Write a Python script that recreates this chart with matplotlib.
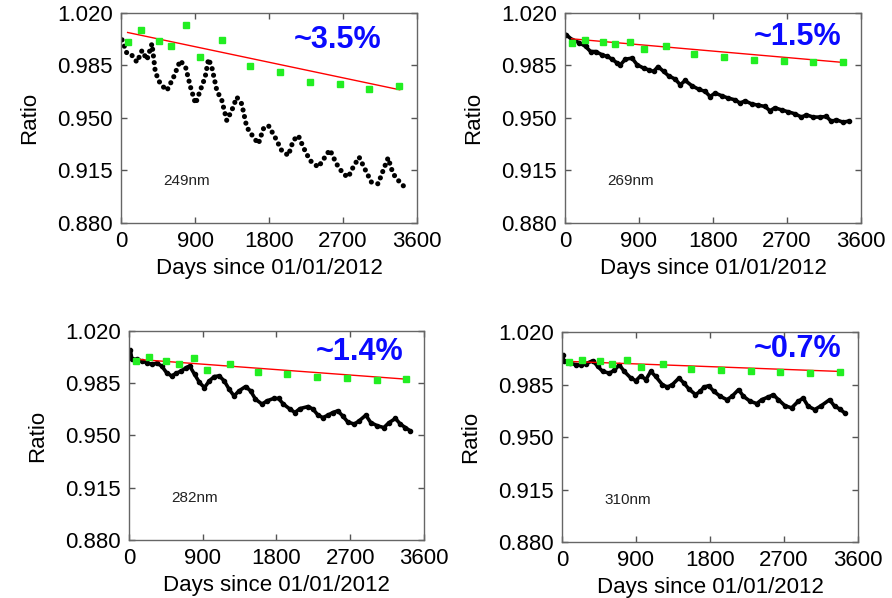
import matplotlib
matplotlib.use("Agg")
import matplotlib.pyplot as plt

plt.rcParams["font.family"] = ["Liberation Sans", "DejaVu Sans"]

wavelengths = ["249nm", "269nm", "282nm", "310nm"]
percent_labels = ["~3.5%", "~1.5%", "~1.4%", "~0.7%"]

# green reference points (same days in every panel)
ref_days = [80, 243, 457, 605, 790, 956, 1227, 1570, 1930, 2295, 2658, 3022, 3386]
ref_249 = [1.0006, 1.0088, 1.0012, 0.9977, 1.0119, 0.9906, 1.0023, 0.9846, 0.9806, 0.9743, 0.9728, 0.9692, 0.9712]
ref_269 = [1.0003, 1.0021, 1.0006, 0.9992, 1.0006, 0.9959, 0.9983, 0.9928, 0.9906, 0.9886, 0.9879, 0.9870, 0.9870]
ref_282 = [1.0002, 1.0026, 0.9999, 0.9977, 1.0017, 0.9941, 0.9982, 0.9926, 0.9912, 0.9892, 0.9883, 0.9872, 0.9881]
ref_310 = [1.0000, 1.0011, 1.0004, 0.9989, 1.0013, 0.9964, 0.9984, 0.9955, 0.9948, 0.9940, 0.9935, 0.9926, 0.9933]

# red linear fit
fit_days = [80, 3390]
fit_249 = [1.0070, 0.9688]
fit_269 = [1.0028, 0.9870]
fit_282 = [1.0011, 0.9877]
fit_310 = [1.0004, 0.9937]

# black time series
days_249 = [12, 73, 133, 194, 255, 315, 376, 417, 477, 558, 639, 720, 785, 845, 906, 963,
            1023, 1064, 1104, 1165, 1226, 1286, 1347, 1408, 1468, 1529, 1610, 1671, 1731,
            1792, 1873, 1954, 2035, 2095, 2156, 2217, 2298, 2399, 2480, 2540, 2621, 2702,
            2763, 2823, 2896, 2965, 3046, 3127, 3188, 3248, 3309, 3390, 3450]
ratio_249 = [1.0021, 0.9928, 0.9917, 0.9872, 0.9950, 0.9888, 0.9995, 0.9806, 0.9728, 0.9683,
             0.9772, 0.9883, 0.9839, 0.9706, 0.9595, 0.9683, 0.9772, 0.9894, 0.9839, 0.9683,
             0.9617, 0.9483, 0.9550, 0.9639, 0.9594, 0.9439, 0.9372, 0.9328, 0.9428, 0.9450,
             0.9372, 0.9283, 0.9250, 0.9350, 0.9383, 0.9305, 0.9217, 0.9172, 0.9239, 0.9288,
             0.9194, 0.9128, 0.9105, 0.9172, 0.9239, 0.9161, 0.9072, 0.9061, 0.9150, 0.9234,
             0.9128, 0.9072, 0.9039]

days_269 = [16, 89, 170, 250, 311, 372, 452, 513, 574, 634, 675, 735, 816, 877, 957, 1018,
            1079, 1131, 1200, 1260, 1341, 1402, 1462, 1543, 1624, 1705, 1765, 1826, 1907,
            1988, 2068, 2129, 2190, 2270, 2351, 2432, 2493, 2553, 2634, 2715, 2796, 2876,
            2937, 3018, 3099, 3179, 3240, 3301, 3381, 3450]
ratio_269 = [1.0054, 1.0021, 1.0003, 0.9977, 0.9943, 0.9943, 0.9921, 0.9910, 0.9892, 0.9866,
             0.9855, 0.9892, 0.9899, 0.9855, 0.9832, 0.9821, 0.9810, 0.9843, 0.9810, 0.9781,
             0.9759, 0.9721, 0.9750, 0.9715, 0.9692, 0.9677, 0.9643, 0.9666, 0.9648, 0.9632,
             0.9621, 0.9599, 0.9614, 0.9594, 0.9585, 0.9577, 0.9548, 0.9568, 0.9554, 0.9541,
             0.9528, 0.9506, 0.9521, 0.9506, 0.9506, 0.9510, 0.9477, 0.9488, 0.9472, 0.9479]

days_282 = [16, 36, 96, 157, 217, 277, 338, 398, 458, 519, 579, 639, 700, 740, 800, 860, 921,
            981, 1041, 1101, 1162, 1222, 1282, 1343, 1423, 1483, 1544, 1624, 1684, 1765,
            1825, 1885, 1966, 2026, 2086, 2187, 2247, 2307, 2367, 2428, 2488, 2548, 2608,
            2669, 2749, 2809, 2890, 2950, 3031, 3111, 3171, 3252, 3312, 3373, 3433]
ratio_282 = [1.0073, 1.0011, 1.0011, 0.9999, 0.9988, 0.9977, 0.9984, 0.9966, 0.9921, 0.9899,
             0.9917, 0.9933, 0.9955, 0.9966, 0.9910, 0.9855, 0.9821, 0.9866, 0.9895, 0.9899,
             0.9866, 0.9810, 0.9765, 0.9799, 0.9828, 0.9799, 0.9743, 0.9710, 0.9732, 0.9748,
             0.9748, 0.9710, 0.9676, 0.9654, 0.9680, 0.9694, 0.9676, 0.9636, 0.9620, 0.9636,
             0.9654, 0.9665, 0.9631, 0.9591, 0.9576, 0.9598, 0.9636, 0.9587, 0.9565, 0.9553,
             0.9585, 0.9614, 0.9576, 0.9553, 0.9531]

days_310 = [12, 20, 93, 173, 234, 294, 375, 435, 496, 576, 637, 697, 758, 838, 899, 959,
            1020, 1080, 1140, 1221, 1282, 1342, 1423, 1483, 1544, 1624, 1685, 1725, 1785,
            1846, 1926, 2007, 2068, 2148, 2208, 2289, 2370, 2430, 2511, 2571, 2632, 2712,
            2793, 2874, 2934, 2994, 3075, 3155, 3256, 3316, 3377, 3437]
ratio_310 = [1.0048, 1.0004, 0.9993, 0.9982, 0.9982, 0.9989, 1.0009, 0.9971, 0.9937, 0.9926,
             0.9944, 0.9982, 0.9937, 0.9893, 0.9875, 0.9909, 0.9882, 0.9937, 0.9904, 0.9849,
             0.9833, 0.9849, 0.9893, 0.9860, 0.9820, 0.9783, 0.9805, 0.9833, 0.9842, 0.9805,
             0.9771, 0.9749, 0.9771, 0.9816, 0.9771, 0.9738, 0.9723, 0.9749, 0.9767, 0.9782,
             0.9749, 0.9709, 0.9694, 0.9738, 0.9760, 0.9705, 0.9683, 0.9709, 0.9749, 0.9705,
             0.9688, 0.9661]

x_ticks = [0, 900, 1800, 2700, 3600]
y_ticks = [0.880, 0.915, 0.950, 0.985, 1.020]

panels = [
    (days_249, ratio_249, ref_249, fit_249, False),
    (days_269, ratio_269, ref_269, fit_269, True),
    (days_282, ratio_282, ref_282, fit_282, True),
    (days_310, ratio_310, ref_310, fit_310, True),
]

# axes rectangles in figure fraction, and placement of the % labels
rects = [
    [0.1357, 0.6271, 0.3318, 0.3512],
    [0.6334, 0.6271, 0.3318, 0.3512],
    [0.1446, 0.0970, 0.3307, 0.3495],
    [0.6300, 0.0936, 0.3318, 0.3512],
]
pct_pos = [(0.88, 0.87), (0.935, 0.886), (0.93, 0.90), (0.945, 0.92)]

fig = plt.figure(figsize=(8.92, 5.98), dpi=100)

for i, (days, ratio, ref, fit, joined) in enumerate(panels):
    ax = fig.add_axes(rects[i])
    if joined:
        ax.plot(days, ratio, color="black", lw=2.6, marker="o", ms=3, zorder=2)
    else:
        # 249nm track is a row of separate dots
        ax.plot(days, ratio, color="black", lw=3.7, ls=(0, (0.01, 1.3)),
                dash_capstyle="round", zorder=2)
    ax.plot(fit_days, fit, color="red", lw=1.0, zorder=3)
    ax.plot(ref_days, ref, ls="none", marker="s", ms=5, color="#22ee22", zorder=4)

    ax.set_xlim(0, 3600)
    ax.set_ylim(0.880, 1.020)
    ax.set_xticks(x_ticks)
    ax.set_yticks(y_ticks)
    ax.set_yticklabels([f"{v:.3f}" for v in y_ticks])
    ax.tick_params(direction="in", top=True, right=True, length=4, width=1,
                   color="#555555", labelsize=16, pad=6)
    for s in ax.spines.values():
        s.set_color("#666666")
        s.set_linewidth(1.0)
    ax.set_xlabel("Days since 01/01/2012", fontsize=16, labelpad=4)
    ax.set_ylabel("Ratio", fontsize=16, labelpad=12)

    ax.text(0.142, 0.20, wavelengths[i], transform=ax.transAxes, fontsize=11,
            ha="left", va="center", color="#222222")
    ax.text(pct_pos[i][0], pct_pos[i][1], percent_labels[i], transform=ax.transAxes,
            fontsize=22, fontweight="bold", color="#0a0aff", ha="right", va="center")

fig.savefig("out.png", dpi=100)
